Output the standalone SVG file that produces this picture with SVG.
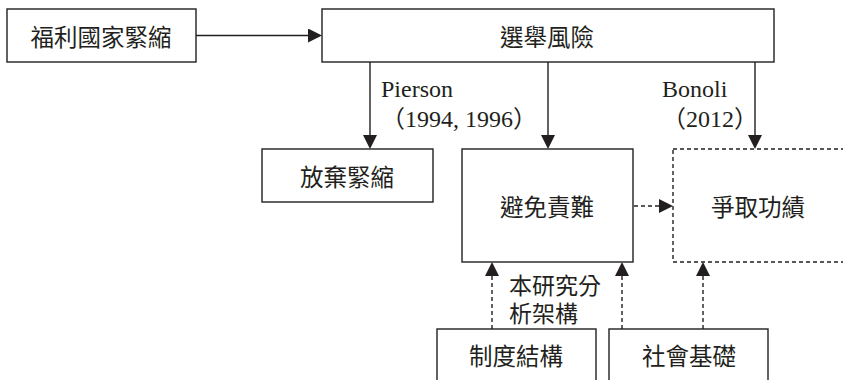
<svg xmlns="http://www.w3.org/2000/svg" width="843" height="380" viewBox="0 0 843 380">
  <style>
    .box { fill: #ffffff; stroke: #231f20; stroke-width: 1.4; }
    .dbox { fill: #ffffff; stroke: #231f20; stroke-width: 1.4; stroke-dasharray: 4 3; }
    .ln { fill: none; stroke: #231f20; stroke-width: 1.4; }
    .dln { fill: none; stroke: #231f20; stroke-width: 1.4; stroke-dasharray: 4 3; }
    .zh { font-family: "Noto Sans CJK TC", "Noto Sans CJK SC", sans-serif; font-size: 23.5px; fill: #231f20; text-anchor: middle; dominant-baseline: central; }
    .zhl { font-family: "Noto Sans CJK TC", "Noto Sans CJK SC", sans-serif; font-size: 23px; fill: #231f20; dominant-baseline: central; }
    .en { font-family: "Liberation Serif", "Noto Sans CJK TC", serif; font-size: 24px; fill: #231f20; }
  </style>
  <defs>
    <marker id="ah" viewBox="0 0 14 14" refX="0" refY="7" markerWidth="14" markerHeight="14" markerUnits="userSpaceOnUse" orient="auto">
      <path d="M0,0 L14,7 L0,14 z" fill="#231f20"/>
    </marker>
  </defs>
  <rect width="843" height="380" fill="#ffffff"/>

  <g id="connectors">
    <line class="ln" x1="196" y1="35.5" x2="308" y2="35.5" marker-end="url(#ah)"/>
    <line class="ln" x1="370" y1="62" x2="370" y2="135" marker-end="url(#ah)"/>
    <line class="ln" x1="548" y1="62" x2="548" y2="135" marker-end="url(#ah)"/>
    <line class="ln" x1="755" y1="62" x2="755" y2="135" marker-end="url(#ah)"/>
    <line class="dln" x1="634" y1="206" x2="659" y2="206" marker-end="url(#ah)"/>
    <line class="dln" x1="492" y1="329" x2="492" y2="276" marker-end="url(#ah)"/>
    <line class="dln" x1="622" y1="329" x2="622" y2="276" marker-end="url(#ah)"/>
    <line class="dln" x1="703" y1="329" x2="703" y2="276" marker-end="url(#ah)"/>
  </g>

  <g id="n-fuli">
    <rect class="box" x="7" y="9" width="189" height="53"/>
    <text class="zh" x="101" y="35.5">福利國家緊縮</text>
  </g>
  <g id="n-xuanju">
    <rect class="box" x="322" y="9" width="452" height="53"/>
    <text class="zh" x="547" y="35.5">選舉風險</text>
  </g>
  <g id="n-fangqi">
    <rect class="box" x="262" y="149" width="171" height="53"/>
    <text class="zh" x="347" y="176">放棄緊縮</text>
  </g>
  <g id="n-bimian">
    <rect class="box" x="462" y="149" width="171" height="113"/>
    <text class="zh" x="547" y="206">避免責難</text>
  </g>
  <g id="n-zhengqu">
    <rect class="dbox" x="673" y="149" width="180" height="113"/>
    <text class="zh" x="758" y="206">爭取功績</text>
  </g>
  <g id="n-zhidu">
    <rect class="box" x="437" y="329" width="159" height="60"/>
    <text class="zh" x="516" y="355">制度結構</text>
  </g>
  <g id="n-shehui">
    <rect class="box" x="609" y="329" width="159" height="60"/>
    <text class="zh" x="689" y="355">社會基礎</text>
  </g>

  <g id="labels">
    <text class="en" x="381" y="97">Pierson</text>
    <text class="en" x="381" y="127">（1994, 1996）</text>
    <text class="en" x="662" y="97">Bonoli</text>
    <text class="en" x="662" y="127">（2012）</text>
    <text class="zhl" x="509" y="284"><tspan x="509" y="284">本研究分</tspan><tspan x="509" y="312">析架構</tspan></text>
  </g>
</svg>
